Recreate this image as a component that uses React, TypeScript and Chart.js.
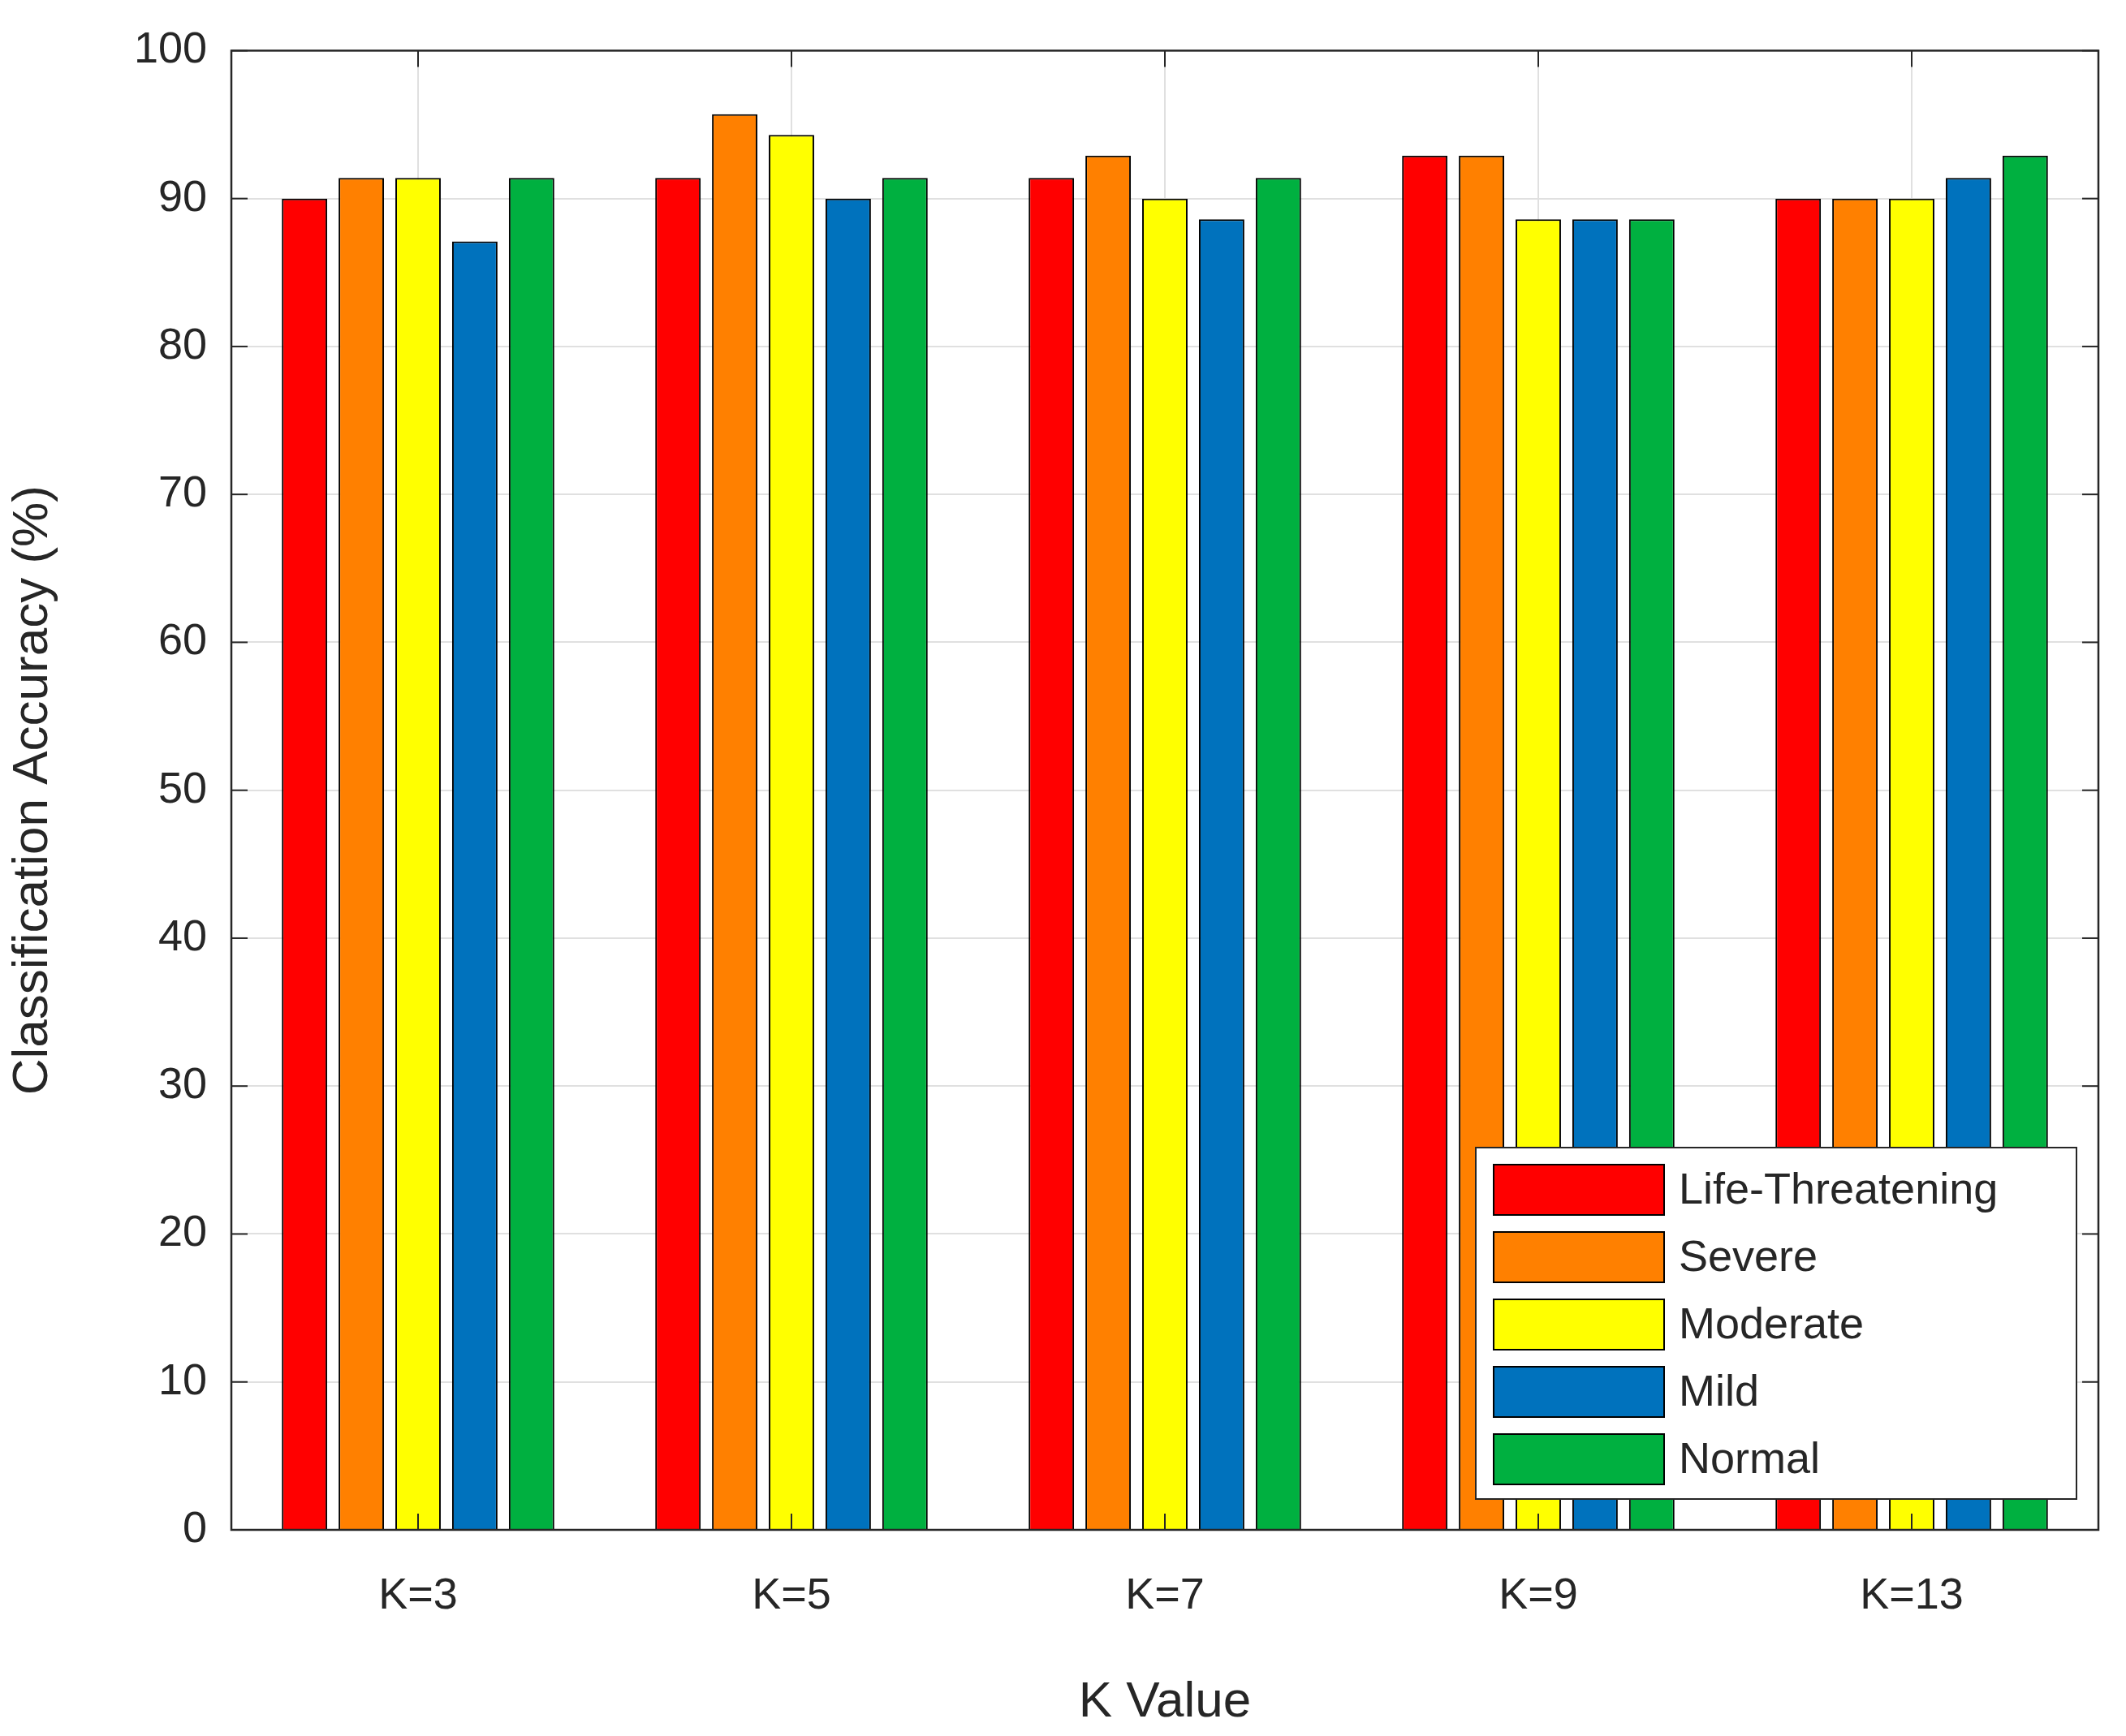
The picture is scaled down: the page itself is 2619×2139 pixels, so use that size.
import React, { useEffect, useRef } from "react";
import { Chart, registerables } from "chart.js";
Chart.register(...registerables);

const categories = ["K=3", "K=5", "K=7", "K=9", "K=13"];
const seriesNames = ["Life-Threatening", "Severe", "Moderate", "Mild", "Normal"];
const colors = ["#ff0000", "#ff8000", "#ffff00", "#0072bd", "#00b040"];
const lifeThreatening = [90, 91.4, 91.4, 92.9, 90];
const severe = [91.4, 95.7, 92.9, 92.9, 90];
const moderate = [91.4, 94.3, 90, 88.6, 90];
const mild = [87.1, 90, 88.6, 88.6, 91.4];
const normal = [91.4, 91.4, 91.4, 88.6, 92.9];
const seriesValues = [lifeThreatening, severe, moderate, mild, normal];

const FONT = "Arial, 'Liberation Sans', sans-serif";

const framePlugin = {
  id: "frame",
  afterDraw(chart: any) {
    const { ctx, chartArea: a } = chart;
    ctx.save();
    ctx.strokeStyle = "#262626";
    ctx.lineWidth = 2.5;
    ctx.strokeRect(a.left, a.top, a.right - a.left, a.bottom - a.top);
    // inward ticks
    const ys = chart.scales.y;
    const xs = chart.scales.x;
    ctx.lineWidth = 2;
    for (let v = 0; v <= 100; v += 10) {
      const y = ys.getPixelForValue(v);
      ctx.beginPath(); ctx.moveTo(a.left, y); ctx.lineTo(a.left + 20, y); ctx.stroke();
      ctx.beginPath(); ctx.moveTo(a.right, y); ctx.lineTo(a.right - 20, y); ctx.stroke();
    }
    for (let i = 0; i < categories.length; i++) {
      const x = xs.getPixelForValue(i);
      ctx.beginPath(); ctx.moveTo(x, a.bottom); ctx.lineTo(x, a.bottom - 20); ctx.stroke();
      ctx.beginPath(); ctx.moveTo(x, a.top); ctx.lineTo(x, a.top + 20); ctx.stroke();
    }
    // legend
    const lx = 1818, ly = 1414, lw = 740, lh = 433;
    ctx.fillStyle = "#fff";
    ctx.fillRect(lx, ly, lw, lh);
    ctx.strokeStyle = "#262626";
    ctx.lineWidth = 2;
    ctx.strokeRect(lx, ly, lw, lh);
    ctx.font = `54px ${FONT}`;
    ctx.textBaseline = "middle";
    seriesNames.forEach((n, i) => {
      const cy = ly + 52 + i * 83;
      ctx.fillStyle = colors[i];
      ctx.fillRect(lx + 22, cy - 31, 210, 62);
      ctx.strokeStyle = "#000";
      ctx.strokeRect(lx + 22, cy - 31, 210, 62);
      ctx.fillStyle = "#262626";
      ctx.fillText(n, lx + 250, cy + 2);
    });
    ctx.restore();
  },
};

export default function App() {
  const ref = useRef<HTMLCanvasElement>(null);
  useEffect(() => {
    document.body.style.margin = "0";
    const chart = new Chart(ref.current!, {
      type: "bar",
      data: {
        labels: categories,
        datasets: seriesNames.map((n, i) => ({
          label: n,
          data: seriesValues[i],
          backgroundColor: colors[i],
          borderColor: "#000",
          borderWidth: 2,
          categoryPercentage: 0.76,
          barPercentage: 0.8,
        })),
      },
      options: {
        animation: false,
        responsive: false,
        devicePixelRatio: 1,
        layout: { padding: { top: 62, right: 34, left: 0, bottom: 0 } },
        plugins: { legend: { display: false }, tooltip: { enabled: false } },
        scales: {
          x: {
            grid: { color: "#e0e0e0", lineWidth: 2, offset: false, drawTicks: false },
            border: { display: false },
            ticks: { color: "#262626", font: { size: 54, family: FONT }, padding: 50 },
            title: { display: true, text: "K Value", color: "#262626", font: { size: 62, family: FONT }, padding: { top: 30 } },
            afterFit: (s: any) => { s.height = 254; },
          },
          y: {
            min: 0, max: 100,
            grid: { color: "#e0e0e0", lineWidth: 2, drawTicks: false },
            border: { display: false },
            ticks: { stepSize: 10, color: "#262626", font: { size: 54, family: FONT }, padding: 30 },
            title: { display: true, text: "Classification Accuracy (%)", color: "#262626", font: { size: 62, family: FONT }, padding: { bottom: 30 } },
            afterFit: (s: any) => { s.width = 285; },
          },
        },
      },
      plugins: [framePlugin],
    });
    return () => chart.destroy();
  }, []);
  return <canvas ref={ref} width={2619} height={2139} />;
}
